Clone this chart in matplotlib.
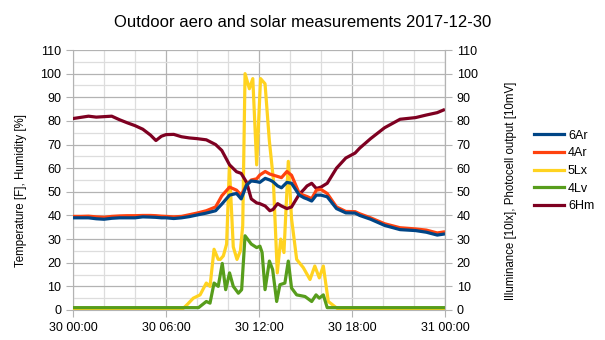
import matplotlib
matplotlib.use("Agg")
import matplotlib.pyplot as plt
from matplotlib.ticker import MultipleLocator

plt.rcParams['font.family'] = ['Liberation Sans', 'DejaVu Sans']

# hours since 2017-12-30 00:00
t_temp = [0, 0.5, 1, 1.5, 2, 2.5, 3, 3.5, 4, 4.5, 5, 5.35, 5.7, 6, 6.5, 7, 7.5, 8,
          8.6, 9.2, 9.6, 10.1, 10.55, 10.85, 11.2, 11.5, 11.85, 12.05, 12.4, 12.7,
          12.9, 13.2, 13.45, 13.8, 14.1, 14.6, 14.9, 15.1, 15.4, 15.7, 16.0, 16.4,
          17.0, 17.6, 18.2, 18.5, 19.2, 20.1, 21.1, 22.1, 22.8, 23.5, 23.9]
ar6 = [39, 39, 39, 38.6, 38.4, 38.8, 39, 39, 39, 39.4, 39.3, 39.2, 39, 39, 38.7, 39,
       39.5, 40.2, 41, 42, 44.8, 48.6, 49.3, 47, 52.9, 54.6, 54.3, 54, 55.7, 55,
       54.3, 52.5, 51.7, 54, 53.6, 48.6, 47.5, 47, 46.1, 48.6, 48.6, 47.9,
       42.9, 41.1, 41.0, 40, 38.4, 35.8, 34, 33.6, 32.9, 31.7, 32.1]
ar4 = [39.6, 39.6, 39.7, 39.4, 39.2, 39.6, 39.8, 39.9, 39.9, 40, 40, 39.9, 39.7, 39.6,
       39.4, 39.6, 40.3, 41, 42, 43.6, 48.3, 52, 50.7, 48.6, 53, 55, 55.5, 57.1, 58.6,
       57.5, 57.1, 56.5, 56, 58.6, 57, 49.3, 48.5, 48, 47.1, 50.7, 51, 49.3,
       43.6, 41.7, 41.6, 40.7, 39, 36.5, 34.8, 34.3, 33.8, 32.6, 33]
hm6 = [81, 81.5, 82, 81.6, 81.8, 82, 80.5, 79.2, 78, 76.5, 74, 71.7, 73.5, 74.2,
       74.3, 73.3, 72.8, 72.5, 72, 70, 67.5, 61.4, 58.5, 57.8, 54, 47, 45.3, 45, 44,
       42, 42.5, 45, 44, 42.9, 43.6, 49, 51, 52.5, 53.6, 51.4, 52, 53.6,
       60, 64.3, 66.4, 68.5, 72.5, 77.1, 80.7, 81.4, 82.5, 83.5, 84.6]

t_lx = [0, 7.0, 7.4, 7.76, 8.2, 8.6, 8.84, 9.1, 9.37, 9.5, 9.7, 9.91, 10.09, 10.34,
        10.58, 10.8, 10.95, 11.1, 11.38, 11.6, 11.85, 12.1, 12.39, 12.67, 12.92,
        13.18, 13.4, 13.61, 13.89, 14.1, 14.43, 14.86, 15.29, 15.6, 15.89, 16.15,
        16.47, 16.9, 17.2, 24]
lx5 = [0, 0, 2.5, 5, 6.4, 11.4, 10, 25.7, 21.4, 21.4, 22.9, 27.9, 60.7, 26.7,
       21.4, 25, 35.7, 100, 93.6, 97.9, 61.4, 97.9, 95.7, 71.4, 55.7,
       15.7, 30, 24.3, 62.9, 38.6, 21.4, 17.9, 12.9, 18.6, 13.6, 18.6,
       3.6, 1.4, 0, 0]

t_lv = [0, 8.1, 8.6, 8.84, 9.1, 9.37, 9.63, 9.85, 10.1, 10.34, 10.67, 10.88, 11.1,
        11.5, 11.85, 12.06, 12.2, 12.39, 12.67, 12.88, 13.14, 13.35, 13.67, 13.89,
        14.1, 14.43, 14.97, 15.4, 15.68, 15.89, 16.15, 16.4, 24]
lv4 = [1, 1, 3.6, 2.9, 11.4, 10, 19.7, 8.6, 15.7, 10, 7.1, 8.6, 31.4,
       27.9, 26.4, 27, 24.3, 8.6, 20.7, 17.1, 3.6, 10.7, 11.4, 20.7,
       9.3, 6.4, 5.7, 3.6, 6.4, 5, 6.4, 1, 1]

x_ticks = [0, 6, 12, 18, 24]
x_labels = ["30 00:00", "30 06:00", "30 12:00", "30 18:00", "31 00:00"]

fig = plt.figure(figsize=(6.05, 3.4), dpi=100)
ax = fig.add_axes([73 / 605, 1 - 310 / 340, 372 / 605, 260 / 340])

lw = 2.3
ax.plot(t_temp, ar6, color='#004586', lw=lw, label='6Ar', zorder=6)
ax.plot(t_temp, ar4, color='#ff420e', lw=lw, label='4Ar', zorder=5)
ax.plot(t_lx, lx5, color='#ffd320', lw=lw, label='5Lx', zorder=3)
ax.plot(t_lv, lv4, color='#579d1c', lw=lw, label='4Lv', zorder=3)
ax.plot(t_temp, hm6, color='#7e0021', lw=lw, label='6Hm', zorder=3)

ax.set_xlim(0, 24)
ax.set_ylim(0, 110)
ax.set_xticks(x_ticks)
ax.set_xticklabels(x_labels)
ax.xaxis.set_minor_locator(MultipleLocator(2))
ax.yaxis.set_major_locator(MultipleLocator(10))
ax.yaxis.set_minor_locator(MultipleLocator(5))

ax.grid(True, which='major', color='#b3b3b3', lw=0.9)
ax.grid(True, which='minor', color='#dddddd', lw=0.9)
ax.set_axisbelow(True)

ax.tick_params(which='major', length=5, color='#b3b3b3', labelsize=9)
ax.tick_params(which='minor', length=0)
ax.spines['top'].set_visible(False)
for s in ['left', 'right', 'bottom']:
    ax.spines[s].set_color('#b3b3b3')

ax2 = ax.twinx()
ax2.set_ylim(0, 110)
ax2.yaxis.set_major_locator(MultipleLocator(10))
ax2.tick_params(length=5, color='#b3b3b3', labelsize=9)
for s in ['top', 'left', 'bottom']:
    ax2.spines[s].set_visible(False)
ax2.spines['right'].set_color('#b3b3b3')

ax.set_ylabel("Temperature [F], Humidity [%]", fontsize=8.3)
ax.yaxis.set_label_coords(-0.124, 0.46)
ax2.set_ylabel("Illuminance [10lx], Photocell output [10mV]", fontsize=8.3)
ax2.yaxis.set_label_coords(1.161, 0.46)

fig.text(0.5, 0.935, "Outdoor aero and solar measurements 2017-12-30",
         ha='center', va='center', fontsize=12)

handles, labels = ax.get_legend_handles_labels()
fig.legend(handles, labels, loc='center left', bbox_to_anchor=(528 / 605, 0.497),
           frameon=False, fontsize=9, handlelength=2.4, handletextpad=0.3,
           labelspacing=0.45, borderpad=0)

fig.savefig("out.png", dpi=100)
